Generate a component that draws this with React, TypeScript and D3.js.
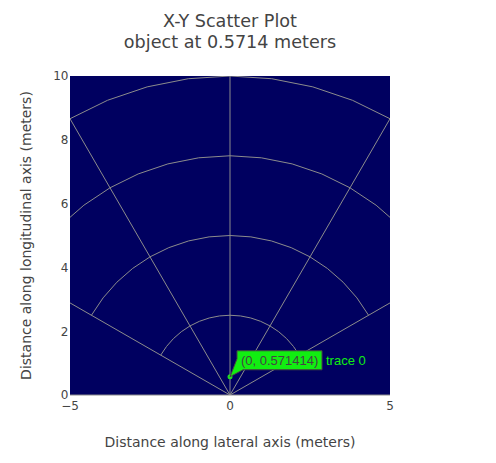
import React from "react";
import * as d3 from "d3";

const titleLines = ["X-Y Scatter Plot", "object at 0.5714 meters"];
const xLabel = "Distance along lateral axis (meters)";
const yLabel = "Distance along longitudinal axis (meters)";
const xTicks = [-5, 0, 5];
const yTicks = [0, 2, 4, 6, 8, 10];
const arcRadii = [2.5, 5, 7.5, 10];
const rayAngles = [30, 60, 90, 120, 150];
const arcAngleStep = 7.5;
const pointX = [0];
const pointY = [0.571414];
const hoverText = "(0, 0.571414)";
const traceName = "trace 0";

const W = 496, H = 463;
const L = 70, T = 76, PW = 320, PH = 319;

export default function App() {
  const x = d3.scaleLinear().domain([-5, 5]).range([L, L + PW]);
  const y = d3.scaleLinear().domain([0, 10]).range([T + PH, T]);
  const line = d3.line<[number, number]>().x(d => x(d[0])).y(d => y(d[1]));
  const rad = (a: number) => (a * Math.PI) / 180;
  const arcs = arcRadii.map(r => {
    const pts: [number, number][] = [];
    for (let a = 30; a <= 150 + 1e-9; a += arcAngleStep) {
      pts.push([r * Math.cos(rad(a)), r * Math.sin(rad(a))]);
    }
    return line(pts) as string;
  });
  const rays = rayAngles.map(a => line([[0, 0], [10 * Math.cos(rad(a)), 10 * Math.sin(rad(a))]]) as string);
  const px = x(pointX[0]), py = y(pointY[0]);
  const bx = px + 7, by = py - 26, bw = 85, bh = 19;
  const hoverPath = `M${px},${py}L${bx},${by + 8}V${by}H${bx + bw}V${by + bh}H${bx + 6}Z`;
  const font = "'DejaVu Sans', Verdana, sans-serif";
  const hfont = "Arial, 'Liberation Sans', sans-serif";
  return (
    <svg width={W} height={H} style={{ position: "absolute", left: 0, top: 0 }}>
      <rect width={W} height={H} fill="#fff" />
      <defs>
        <clipPath id="plotclip">
          <rect x={L} y={T} width={PW} height={PH} />
        </clipPath>
      </defs>
      <rect x={L} y={T} width={PW} height={PH} fill="#000060" />
      <g clipPath="url(#plotclip)" fill="none" stroke="#8c8c8c" strokeWidth={1}>
        {arcs.map((d, i) => <path key={"a" + i} d={d} />)}
        {rays.map((d, i) => <path key={"r" + i} d={d} />)}
      </g>
      <line x1={L} x2={L + PW} y1={y(0)} y2={y(0)} stroke="#8c8c8c" strokeWidth={1} />
      <g fontFamily={font} fontSize={12} fill="#444">
        {xTicks.map(t => (
          <text key={"x" + t} x={x(t)} y={T + PH + 14.5} textAnchor="middle">{t < 0 ? "\u2212" + Math.abs(t) : t}</text>
        ))}
        {yTicks.map(t => (
          <text key={"y" + t} x={L - 1.5} y={y(t) + 4.3} textAnchor="end">{t}</text>
        ))}
      </g>
      <g fontFamily={font} fill="#444">
        <text x={L + PW / 2} y={27} fontSize={17.6} textAnchor="middle">{titleLines[0]}</text>
        <text x={L + PW / 2} y={48} fontSize={17.6} textAnchor="middle">{titleLines[1]}</text>
        <text x={L + PW / 2} y={447} fontSize={14} textAnchor="middle">{xLabel}</text>
        <text transform={`translate(31,${T + PH / 2}) rotate(-90)`} fontSize={14} textAnchor="middle">{yLabel}</text>
      </g>
      <circle cx={px} cy={py} r={2.5} fill="#22dd22" />
      <path d={hoverPath} fill="#11ee11" stroke="#444" strokeWidth={1} />
      <text x={bx + 4} y={by + 14.5} fontFamily={hfont} fontSize={13} fill="#444">{hoverText}</text>
      <text x={bx + bw + 4} y={by + 14.5} fontFamily={hfont} fontSize={13} fill="#11ee11">{traceName}</text>
    </svg>
  );
}
